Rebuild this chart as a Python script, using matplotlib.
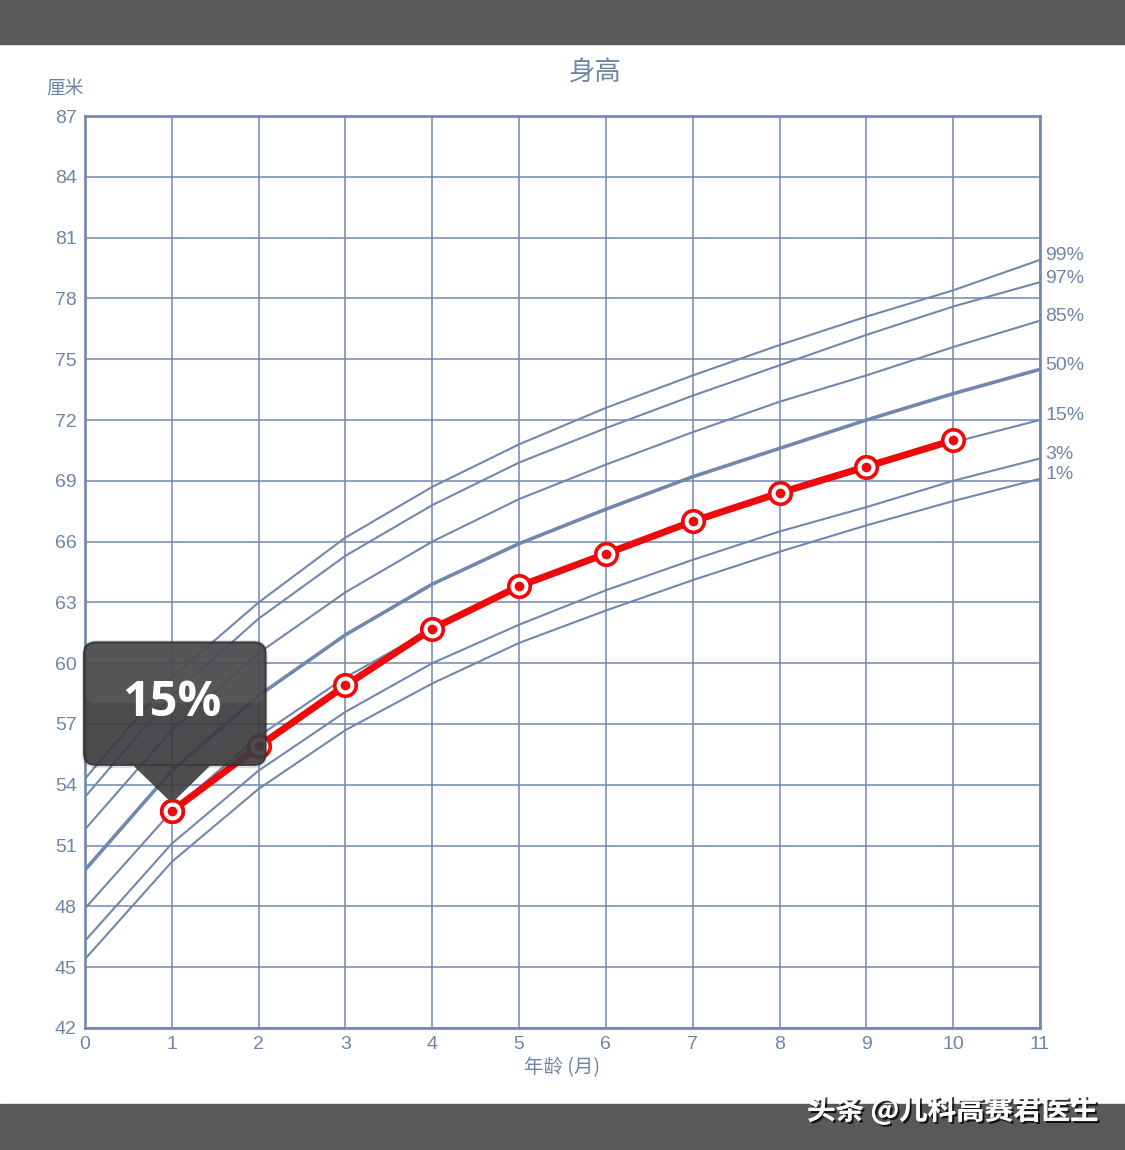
import numpy as np
import matplotlib
matplotlib.use('Agg')
import matplotlib.pyplot as plt
import matplotlib.patheffects as pe
import matplotlib.transforms as mtransforms
from matplotlib.patches import FancyBboxPatch, Polygon, Rectangle

plt.rcParams['font.family'] = ['Liberation Sans', 'Noto Sans CJK SC', 'DejaVu Sans']

# 月龄
months = np.arange(0, 12)
# 百分位曲线 (厘米)
p1 = [45.4, 50.2, 53.8, 56.7, 59.0, 61.0, 62.6, 64.1, 65.5, 66.8, 68.0, 69.1]
p3 = [46.3, 51.1, 54.7, 57.6, 60.0, 61.9, 63.6, 65.1, 66.5, 67.7, 69.0, 70.1]
p15 = [47.9, 52.7, 56.4, 59.3, 61.7, 63.7, 65.4, 66.9, 68.3, 69.6, 70.9, 72.0]
p50 = [49.8, 54.7, 58.4, 61.4, 63.9, 65.9, 67.6, 69.2, 70.6, 72.0, 73.3, 74.5]
p85 = [51.8, 56.7, 60.5, 63.5, 66.0, 68.1, 69.8, 71.4, 72.9, 74.2, 75.6, 76.9]
p97 = [53.4, 58.4, 62.2, 65.3, 67.8, 69.9, 71.6, 73.2, 74.7, 76.2, 77.6, 78.8]
p99 = [54.3, 59.3, 63.0, 66.2, 68.7, 70.8, 72.6, 74.2, 75.7, 77.1, 78.4, 79.9]
curves = [p1, p3, p15, p50, p85, p97, p99]
curve_labels = ['1%', '3%', '15%', '50%', '85%', '97%', '99%']

# 宝宝的身高记录
baby_months = [1, 2, 3, 4, 5, 6, 7, 8, 9, 10]
baby_height = [52.7, 55.9, 58.9, 61.7, 63.8, 65.4, 67.0, 68.4, 69.7, 71.0]
tip_text = '15%'

yticks = np.arange(42, 88, 3)
xticks = np.arange(0, 12)

blue = '#7088ad'
txt = '#6d86a8'
red = '#ee0a0a'

fig = plt.figure(figsize=(11.25, 11.5), dpi=100)
fig.patch.set_facecolor('white')

# 上下深灰色条
fig.add_artist(Rectangle((0, 1 - 44 / 1150), 1, 44 / 1150, transform=fig.transFigure,
                         color='#58595b', zorder=0))
fig.add_artist(Rectangle((0, 0), 1, 46 / 1150, transform=fig.transFigure,
                         color='#58595b', zorder=0))

ax = fig.add_axes([85 / 1125, 122 / 1150, 955 / 1125, 912 / 1150])
ax.set_xlim(0, 11)
ax.set_ylim(42, 87)
ax.set_xticks(xticks)
ax.set_yticks(yticks)
ax.grid(True, color=blue, linewidth=1.1)
ax.set_axisbelow(True)
for s in ax.spines.values():
    s.set_color(blue)
    s.set_linewidth(1.9)
ax.tick_params(length=0, colors=txt, labelsize=14, pad=6)

for c, lab in zip(curves, curve_labels):
    lw = 2.6 if lab == '50%' else 1.5
    ax.plot(months, c, color=blue, lw=lw, solid_capstyle='butt', solid_joinstyle='round', zorder=2)
    ax.annotate(lab, (months[-1], c[-1]), xytext=(4, 3), textcoords='offset points',
                ha='left', va='center', color=txt, fontsize=14, annotation_clip=False)

ax.plot(baby_months, baby_height, color=red, lw=5, zorder=4, solid_capstyle='round')
ax.plot(baby_months, baby_height, 'o', ms=15.5, mfc='white', mec=red, mew=2.6, zorder=5)
ax.plot(baby_months, baby_height, 'o', ms=7, mfc=red, mec=red, mew=0, zorder=6)

# 提示框 (以第一个点为锚点, 单位: 英寸)
bx, by = baby_months[0], baby_height[0]
trans = fig.dpi_scale_trans + mtransforms.ScaledTranslation(bx, by, ax.transData)
shadow = FancyBboxPatch((-0.90, 0.43), 1.86, 1.28, boxstyle='round,pad=0,rounding_size=0.14',
                        transform=trans, facecolor='black', edgecolor='none',
                        alpha=0.12, zorder=7)
box = FancyBboxPatch((-0.88, 0.46), 1.82, 1.23, boxstyle='round,pad=0,rounding_size=0.12',
                     transform=trans, facecolor='#3c3c3e', edgecolor='#2a2a2a', lw=1,
                     alpha=0.9, zorder=8)
gloss = FancyBboxPatch((-0.86, 1.08), 1.78, 0.59, boxstyle='round,pad=0,rounding_size=0.1',
                       transform=trans, facecolor='#6a6a6c', edgecolor='none',
                       alpha=0.35, zorder=8.5)
pointer = Polygon([(-0.40, 0.47), (0.0, 0.08), (0.40, 0.47)], closed=True, transform=trans,
                  facecolor='#3c3c3e', edgecolor='none', alpha=0.9, zorder=8)
for p in (shadow, box, gloss, pointer):
    ax.add_patch(p)
    p.set_clip_on(False)
ax.text(0.0, 1.08, tip_text, transform=trans, ha='center', va='center', color='white',
        fontsize=35, fontweight='bold', zorder=9, family=['Open Sans', 'DejaVu Sans'])

# 第一个点画在提示框之上
ax.plot(baby_months[:1], baby_height[:1], 'o', ms=15.5, mfc='white', mec=red, mew=2.6, zorder=10)
ax.plot(baby_months[:1], baby_height[:1], 'o', ms=7, mfc=red, mec=red, mew=0, zorder=11)

fig.text(595 / 1125, 1 - 73 / 1150, '身高', ha='center', va='center', color=txt,
         fontsize=19, family=['Noto Sans CJK SC', 'DejaVu Sans'])
fig.text(65 / 1125, 1 - 88 / 1150, '厘米', ha='center', va='center', color=txt,
         fontsize=13.5, family=['Noto Sans CJK SC', 'DejaVu Sans'])
fig.text(562 / 1125, 1 - 1068 / 1150, '年龄 (月)', ha='center', va='center', color=txt,
         fontsize=14, family=['Noto Sans CJK SC', 'DejaVu Sans'])

fig.text(953 / 1125, 1 - 1110 / 1150, '头条 @儿科高赛君医生', ha='center', va='center',
         color='white', fontsize=20.5, fontweight='bold', family=['Noto Sans CJK SC', 'DejaVu Sans'],
         path_effects=[pe.withSimplePatchShadow(offset=(1.5, -1.5), shadow_rgbFace='black', alpha=0.8),
                       pe.Normal()])

fig.savefig('out.png', dpi=100)
